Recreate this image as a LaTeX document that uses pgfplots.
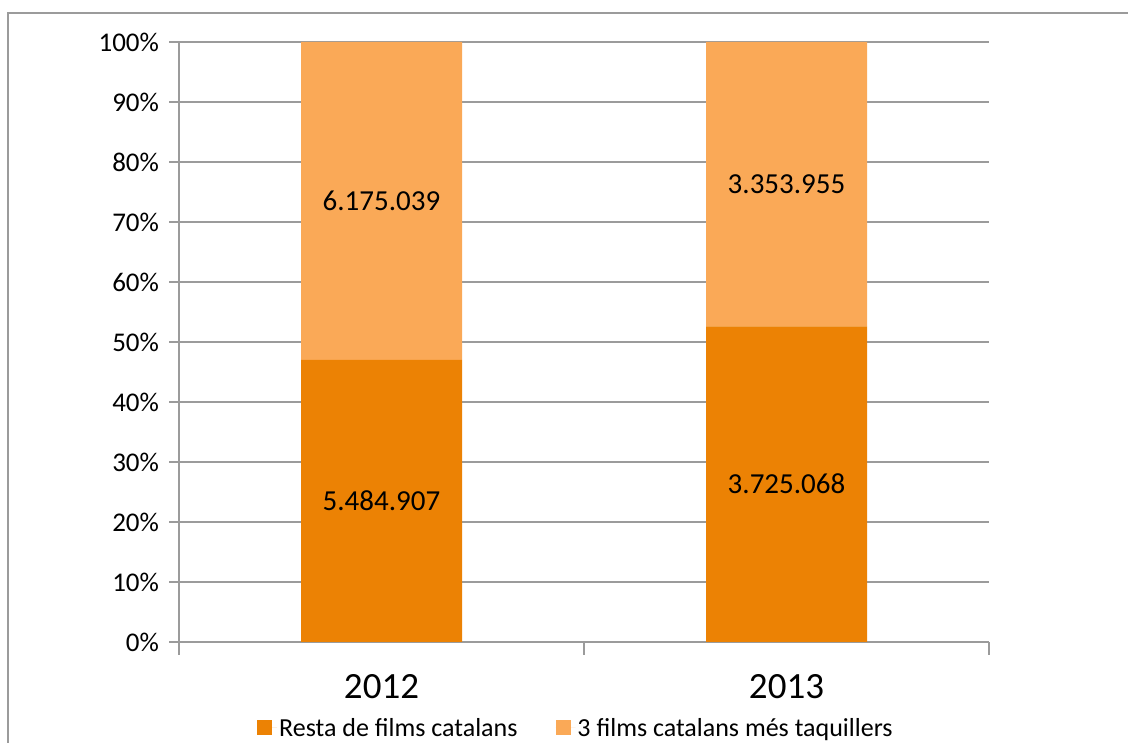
\documentclass[border=0pt]{standalone}
\usepackage{pgfplots}
\pgfplotsset{compat=1.18}
\usepackage{fontspec}
\setmainfont{Carlito}
\definecolor{darkor}{RGB}{236,130,4}
\definecolor{lightor}{RGB}{250,169,87}
\definecolor{axgray}{RGB}{155,155,155}
\begin{document}
\begin{tikzpicture}[x=1pt,y=1pt]
\useasboundingbox (0,0) rectangle (1128,743);
\draw[axgray, line width=1.5pt] (8,-2) -- (8,730) -- (1132,730);
\begin{axis}[
  at={(179pt,101pt)}, anchor=south west,
  width=810pt, height=600pt, scale only axis,
  ybar stacked, bar width=161pt,
  xmin=-0.5, xmax=1.5, ymin=0, ymax=100,
  axis x line*=bottom, axis y line*=left,
  axis line style={axgray, line width=1.5pt},
  xtick={-0.5,0.5,1.5}, x tick label as interval,
  xticklabels={2012,2013},
  ytick={0,10,...,100},
  yticklabel={\pgfmathprintnumber{\tick}\%},
  /pgf/number format/assume math mode=true,
  tick style={draw=axgray, line width=1.5pt},
  x tick style={yshift=-6.5pt}, y tick style={xshift=-3.5pt},
  major tick length=13pt, tick align=center,
  ymajorgrids, grid style={axgray, line width=1.5pt},
  yticklabel style={font=\fontsize{27}{27}\selectfont, xshift=-10pt},
  xticklabel style={font=\fontsize{37}{37}\selectfont, yshift=-22pt},
  legend columns=2,
  legend style={at={(0.49,-0.143)}, anchor=center, draw=none, fill=none,
    font=\fontsize{26}{26}\selectfont,
    /tikz/every even column/.append style={column sep=36pt}},
  legend image code/.code={\fill[#1] (0pt,-7.5pt) rectangle (15pt,7.5pt); \path (0pt,0pt) -- (20pt,0pt);},
]
\addplot[fill=darkor, draw=none] coordinates {(0,47.04) (1,52.62)};
\addplot[fill=lightor, draw=none] coordinates {(0,52.96) (1,47.38)};
\legend{Resta de films catalans, 3 films catalans més taquillers}
\coordinate (a1) at (axis cs:0,23.52);
\coordinate (a2) at (axis cs:0,73.52);
\coordinate (b1) at (axis cs:1,26.31);
\coordinate (b2) at (axis cs:1,76.31);
\end{axis}
\begin{scope}[every node/.style={font=\fontsize{29}{29}\selectfont}]
\node at (a1) {5.484.907};
\node at (a2) {6.175.039};
\node at (b1) {3.725.068};
\node at (b2) {3.353.955};
\end{scope}
\end{tikzpicture}
\end{document}
